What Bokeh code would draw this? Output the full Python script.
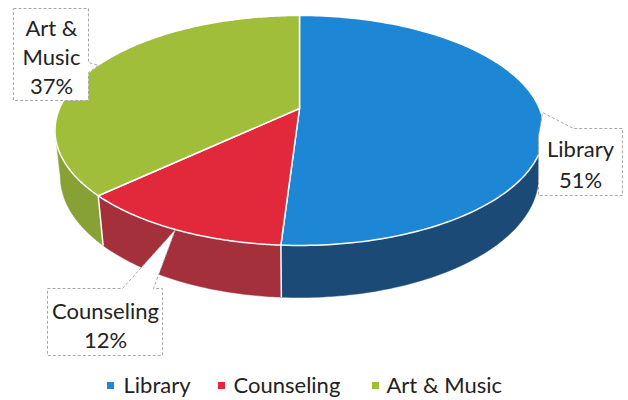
import numpy as np
from bokeh.plotting import figure
from bokeh.models import Range1d
from bokeh.embed import file_html
from bokeh.resources import INLINE
from bokeh.core.properties import value

# ---- data ----
categories = ["Library", "Counseling", "Art & Music"]
percents = [51, 12, 37]
label_pcts = ["51%", "12%", "37%"]
top_colors = ["#1d87d5", "#e2293c", "#a1be3b"]
side_colors = ["#1c4a77", "#a3303b", "#87a135"]

W, H = 628, 400
p = figure(width=W, height=H, x_range=Range1d(0, 628), y_range=Range1d(400, 0),
           output_backend="svg", toolbar_location=None, min_border=0)
p.axis.visible = False
p.grid.visible = False
p.outline_line_color = None
p.background_fill_color = "white"
p.border_fill_color = "white"

# ---- perspective projection of a 3D pie ----
cx, cy = 299.0, 108.0
F = 240.0
a, b = 0.191, 0.0993
ks, kc = 110.8, 212.9
depth = 0.217

def proj(theta_deg, z):
    t = np.radians(np.asarray(theta_deg, dtype=float))
    X = np.sin(t)
    Y = np.cos(t)
    d = 1 + a * Y - b * z
    return cx + F * X / d, cy - (ks * Y + kc * z) / d

total = float(sum(percents))
ends = np.cumsum(percents) / total * 360.0
starts = np.concatenate([[0.0], ends[:-1]])

thL = np.degrees(np.arccos(-a))
thR = 360.0 - thL

# walls
for s, e, col in zip(starts, ends, side_colors):
    lo, hi = max(s, thL), min(e, thR)
    if lo < hi:
        ts = np.linspace(lo, hi, 80)
        tx, ty = proj(ts, 0.0)
        bx, by = proj(ts[::-1], -depth)
        p.patch(np.concatenate([tx, bx]), np.concatenate([ty, by]),
                fill_color=col, line_color=col, line_width=0.5)

for s in starts:
    if thL < s < thR:
        x0, y0 = proj([s], 0.0)
        x1, y1 = proj([s], -depth)
        p.line([x0[0], x1[0]], [y0[0], y1[0]], line_color="white", line_width=1.5)

# top faces
for s, e, col in zip(starts, ends, top_colors):
    ts = np.linspace(s, e, 160)
    ax, ay = proj(ts, 0.0)
    p.patch(np.concatenate([[cx], ax]), np.concatenate([[cy], ay]),
            fill_color=col, line_color="white", line_width=1.5, line_join="round")

# ---- data label callouts ----
box_style = dict(fill_color="white", line_color="#a8a8a8", line_width=1, line_dash="3 2")
# Library
p.patch([538, 542, 573, 622, 622, 538], [136, 112, 128, 128, 195, 195], **box_style)
# Counseling
p.patch([47, 122, 175, 153, 162, 162, 47], [288, 288, 229, 288, 288, 355, 355], **box_style)
# Art & Music
p.patch([13, 88, 88, 98, 88, 88, 13], [8, 8, 62, 65, 72, 100, 100], **box_style)

fnt = value("Lato")
tc = "#222222"
lbl_x = [580, 105, 51]
lines1 = [["Library", "51%"], ["Counseling", "12%"], ["Art &", "Music", "37%"]]
lines_y = [[148, 179], [310, 339], [27, 56, 85]]
for i in range(3):
    txts = lines1[i][:-1] + [label_pcts[i]]
    p.text(x=[lbl_x[i]] * len(txts), y=lines_y[i], text=txts, text_font=fnt,
           text_font_size="22px", text_align="center", text_baseline="middle",
           text_color=tc)

# ---- legend ----
leg_sq_x = [110, 221, 375]
leg_tx_x = [123, 233, 386]
leg_y = 385
p.scatter(x=leg_sq_x, y=[leg_y] * 3, marker="square", size=7,
          fill_color=top_colors, line_color=None)
p.text(x=leg_tx_x, y=[leg_y - 1] * 3, text=categories, text_font=fnt,
       text_font_size="22px", text_align="left", text_baseline="middle", text_color=tc)

open("out.html", "w").write(file_html(p, INLINE))
